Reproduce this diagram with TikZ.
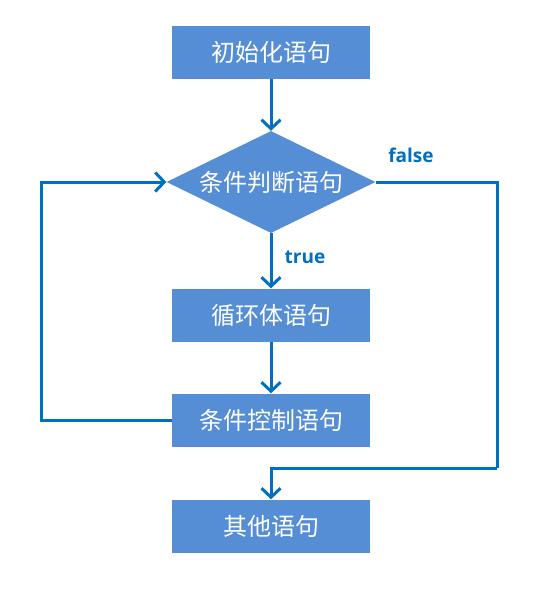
\documentclass[tikz,border=0pt]{standalone}
\usepackage{fontspec}
\setmainfont{Open Sans}
\newfontfamily\cjk{Noto Sans CJK SC}
\usetikzlibrary{arrows.meta}
\usetikzlibrary{shapes.geometric}

\definecolor{boxblue}{RGB}{85,142,213}
\definecolor{lineblue}{RGB}{0,112,192}
\tikzset{
  stmt/.style={shape=rectangle,fill=boxblue,text=white,font=\cjk\fontsize{24}{28}\selectfont,minimum width=198pt,minimum height=53pt,inner sep=0pt},
  cond/.style={shape=diamond,fill=boxblue,text=white,font=\cjk\fontsize{24}{28}\selectfont,minimum width=209pt,minimum height=102pt,inner sep=0pt,aspect=2},
  flow/.style={draw=lineblue,line width=3pt,-{Straight Barb[length=9pt,width=19pt,line width=3pt]}},
  wire/.style={draw=lineblue,line width=3pt},
  tag/.style={text=lineblue,font=\bfseries\fontsize{19}{21}\selectfont,inner sep=0pt}
}

\begin{document}
\begin{tikzpicture}[x=1pt,y=-1pt]
    \useasboundingbox (0,0) rectangle (535,598);
	\node (init) at (271,52) [stmt] {初始化语句};
	\node (test) at (271,182) [cond] {条件判断语句};
	\node (body) at (271,315) [stmt] {循环体语句};
	\node (step) at (271,420) [stmt] {条件控制语句};
	\node (other) at (271,526) [stmt] {其他语句};
	\node (false) at (411,155) [tag] {false};
	\node (true) at (305,257) [tag] {true};
	\coordinate (turn) at (497,468); % corner of the false branch
	\draw[flow] (init) -- (test);
	\draw[flow] (test) -- (body);
	\draw[flow] (body) -- (step);
	\draw[flow] (step.west) -- ++(-130,0) |- (test.west);
	\draw[wire] (test.east) -| (turn);
	\draw[flow] (turn) -| (other.north);
\end{tikzpicture}
\end{document}
